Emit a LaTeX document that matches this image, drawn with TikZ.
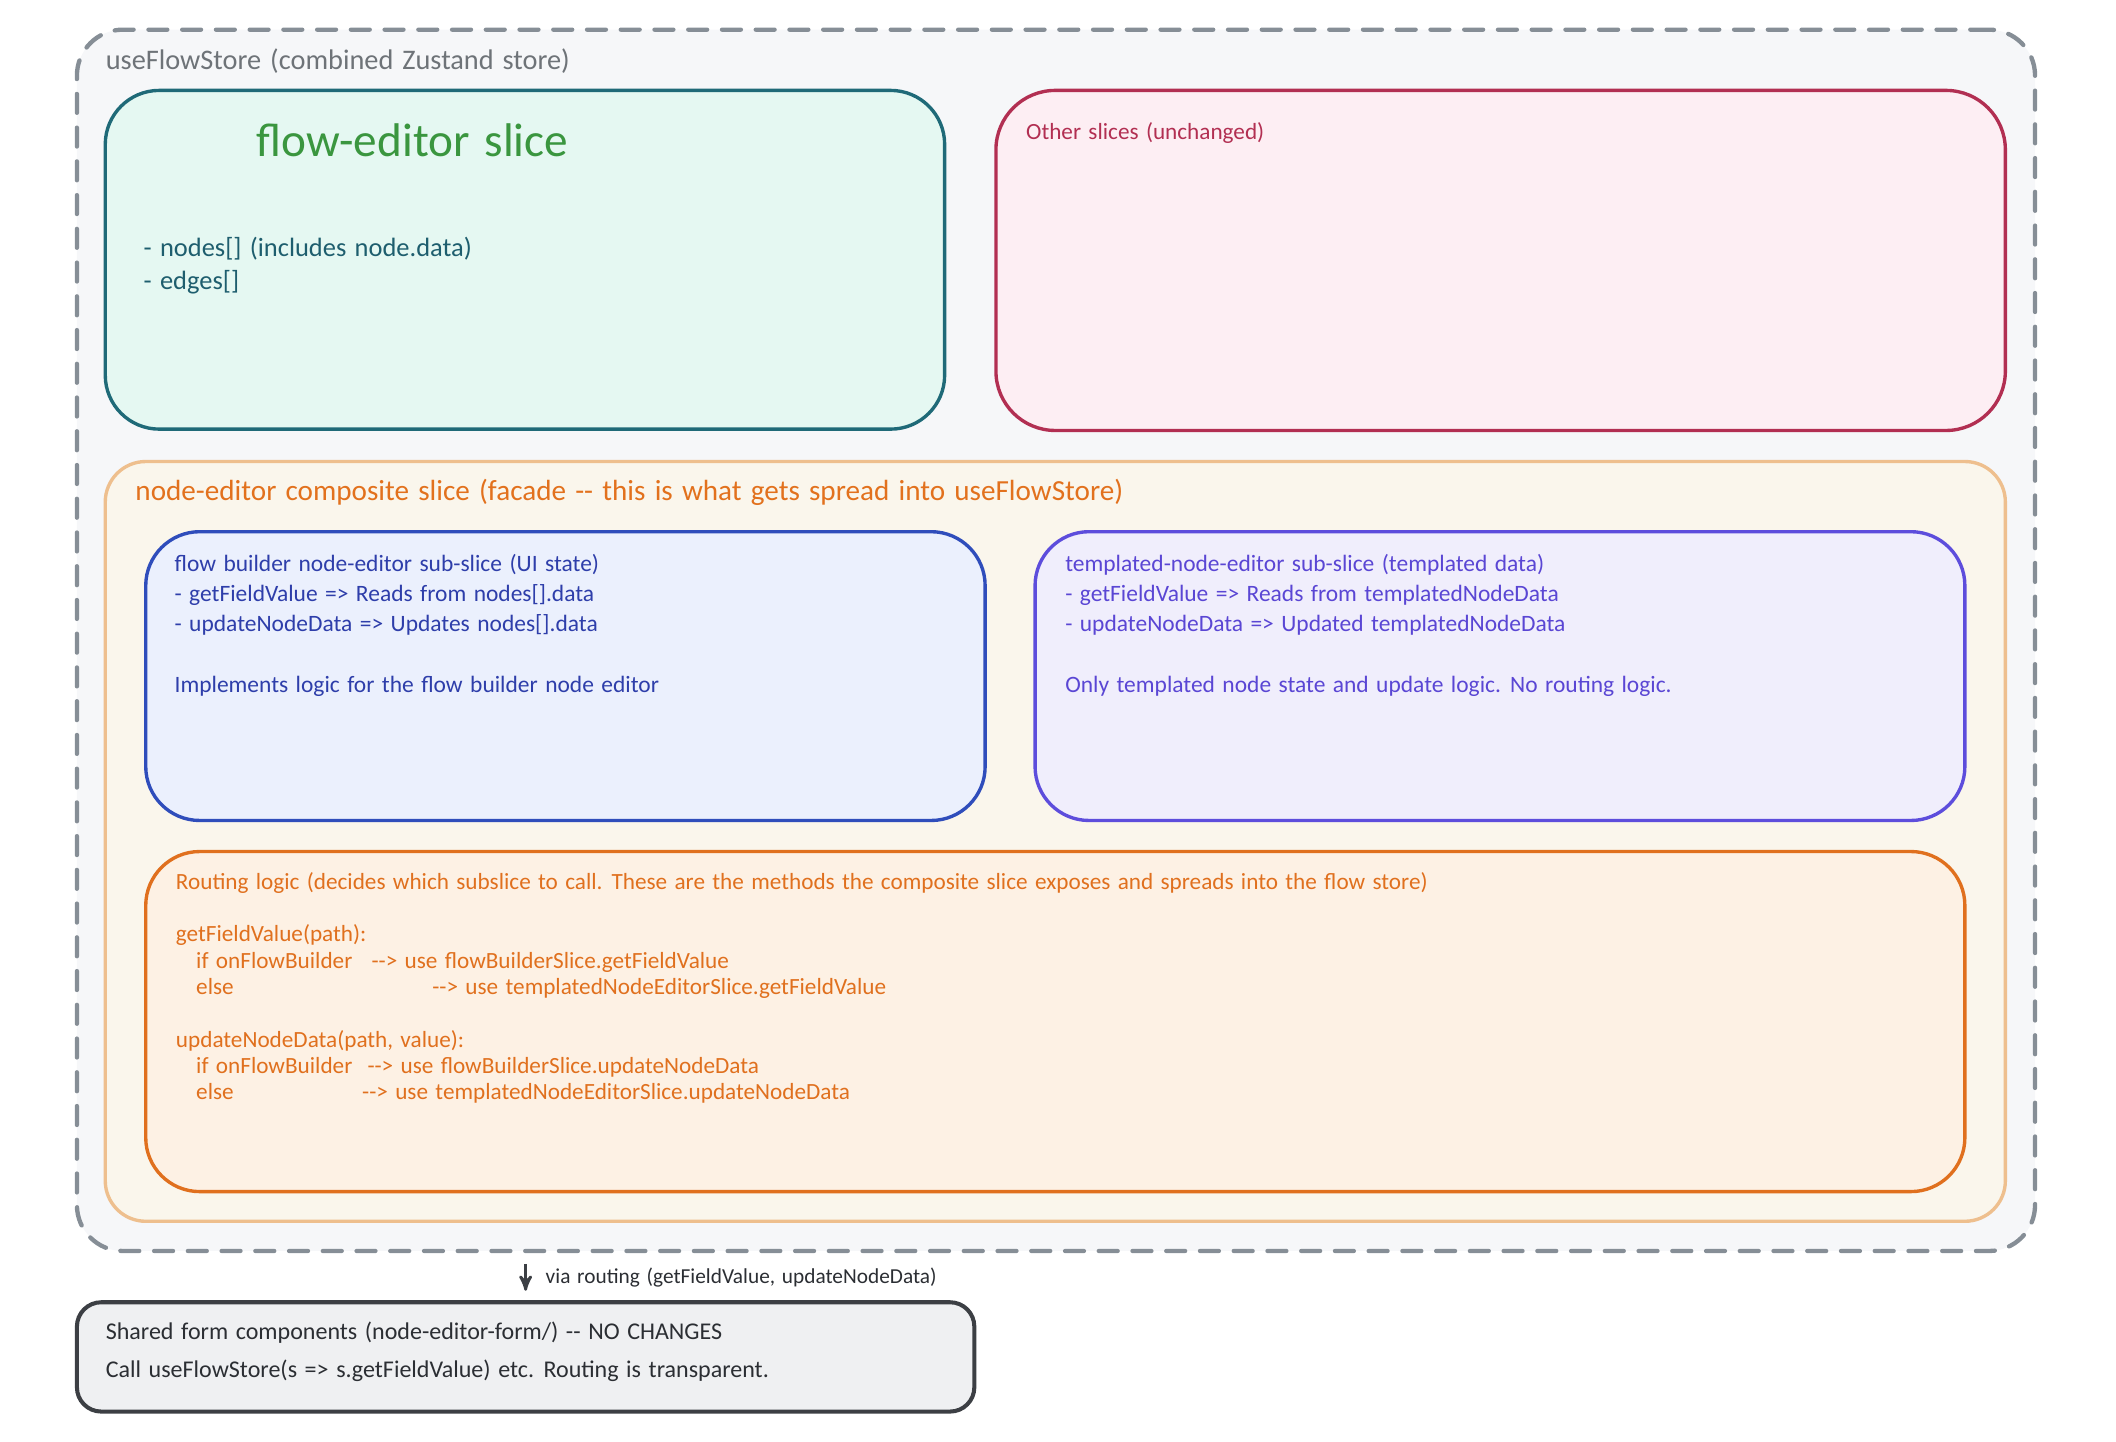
\documentclass[tikz,border=0pt]{standalone}
\usepackage{fontspec}
\setmainfont{Carlito}[WordSpace=1.4]
\usepackage{xcolor}
\usepackage{tikz}
\usetikzlibrary{arrows}

\definecolor{cStoreLine}{HTML}{868E96}
\definecolor{cStoreFill}{HTML}{F6F7F9}
\definecolor{cStoreText}{HTML}{6E7378}
\definecolor{cFlowLine}{HTML}{1F6A78}
\definecolor{cFlowFill}{HTML}{E5F8F2}
\definecolor{cFlowTitle}{HTML}{3A963F}
\definecolor{cFlowText}{HTML}{1E5E6E}
\definecolor{cOtherLine}{HTML}{B22F52}
\definecolor{cOtherFill}{HTML}{FDEEF3}
\definecolor{cCompLine}{HTML}{EEBF8E}
\definecolor{cCompFill}{HTML}{FAF6EC}
\definecolor{cCompText}{HTML}{E2711D}
\definecolor{cBuilderLine}{HTML}{2F4DBB}
\definecolor{cBuilderFill}{HTML}{EBF0FD}
\definecolor{cBuilderText}{HTML}{2E3EAA}
\definecolor{cTmplLine}{HTML}{5D4DDC}
\definecolor{cTmplFill}{HTML}{F0EEFC}
\definecolor{cTmplText}{HTML}{5A46D4}
\definecolor{cRouteLine}{HTML}{E0701E}
\definecolor{cRouteFill}{HTML}{FDF1E4}
\definecolor{cFormLine}{HTML}{3C3F44}
\definecolor{cFormFill}{HTML}{EFF0F2}
\definecolor{cFormText}{HTML}{2B2E33}

\newcommand{\ddash}{-\kern0pt-}% two hyphens, no en dash
\newcommand{\fsz}[2]{\fontsize{#1}{#2}\selectfont}

\tikzset{
  slicebox/.style = {rectangle, inner sep=0pt, line width=1.25pt,
    rounded corners=20pt},
  store_b/.style = {slicebox, draw=cStoreLine, fill=cStoreFill,
    line width=1.6pt, dash pattern=on 7pt off 5.5pt, line cap=round,
    rounded corners=17pt},% outer store, dashed
  flow_b/.style = {slicebox, draw=cFlowLine, fill=cFlowFill},% flow-editor slice
  other_b/.style = {slicebox, draw=cOtherLine, fill=cOtherFill,
    rounded corners=22pt},% other slices
  comp_b/.style = {slicebox, draw=cCompLine, fill=cCompFill,
    rounded corners=15pt},% composite slice
  builder_b/.style = {slicebox, draw=cBuilderLine, fill=cBuilderFill},% sub-slice ui
  tmpl_b/.style = {slicebox, draw=cTmplLine, fill=cTmplFill},% sub-slice templated
  route_b/.style = {slicebox, draw=cRouteLine, fill=cRouteFill},% routing
  form_b/.style = {slicebox, draw=cFormLine, fill=cFormFill,
    line width=1.5pt, rounded corners=9pt},% shared form
  txt/.style = {anchor=north west, inner sep=0pt, align=left}
}

\begin{document}
\begin{tikzpicture}[x=0.5pt, y=-0.5pt]
\useasboundingbox (0,0) rectangle (1568,1068);

\node [store_b, minimum width=725.5pt, minimum height=452.5pt] (store) at (782.5,474.5) {};
\node [txt, cStoreText, font=\fsz{10.5}{13}] (storeTitle) at (78,36)
  {useFlowStore (combined Zustand store)};

\node [flow_b, minimum width=311pt, minimum height=125.5pt] (flowEditor) at (389,192.5) {};
\node [txt, cFlowTitle, font=\fsz{17.5}{20}] (flowTitle) at (190,91) {flow-editor slice};
\node [txt, cFlowText, font=\fsz{9.8}{12}] (flowData) at (106,175.5)
  {- nodes[] (includes node.data)\\- edges[]};

\node [other_b, minimum width=374pt, minimum height=126pt] (others) at (1112,193) {};
\node [txt, cOtherLine, font=\fsz{8.6}{10}] (othersText) at (760,90.5) {Other slices (unchanged)};

\node [comp_b, minimum width=704pt, minimum height=281.5pt] (composite) at (782,623.5) {};
\node [txt, cCompText, font=\fsz{10.8}{12}] (compTitle) at (100,355)
  {node-editor composite slice (facade \ddash{} this is what gets spread into useFlowStore)};

\node [builder_b, minimum width=311pt, minimum height=107pt] (builder) at (419,501) {};
\node [txt, cBuilderText, font=\fsz{8.7}{11.15}] (builderText) at (129,410.5)
  {flow builder node-editor sub-slice (UI state)\\
   - getFieldValue => Reads from nodes[].data\\
   - updateNodeData => Updates nodes[].data\\[11.15pt]
   Implements logic for the flow builder node editor};

\node [tmpl_b, minimum width=344.5pt, minimum height=107pt] (templated) at (1111.5,501) {};
\node [txt, cTmplText, font=\fsz{8.7}{11.15}] (templatedText) at (789,410.5)
  {templated-node-editor sub-slice (templated data)\\
   - getFieldValue => Reads from templatedNodeData\\
   - updateNodeData => Updated templatedNodeData\\[11.15pt]
   Only templated node state and update logic. No routing logic.};

\node [route_b, minimum width=674pt, minimum height=126pt] (routing) at (782,757) {};
\node [txt, cRouteLine, font=\fsz{8.6}{9.75}] (routingText) at (130,646)
  {Routing logic (decides which subslice to call. These are the methods the composite slice exposes and spreads into the flow store)\\[9.75pt]
   getFieldValue(path):\\
   \hspace*{7.5pt}\makebox[65pt][l]{if onFlowBuilder}\ddash> use flowBuilderSlice.getFieldValue\\
   \hspace*{7.5pt}\makebox[87.5pt][l]{else}\ddash> use templatedNodeEditorSlice.getFieldValue\\[9.75pt]
   updateNodeData(path, value):\\
   \hspace*{7.5pt}\makebox[63.5pt][l]{if onFlowBuilder}\ddash> use flowBuilderSlice.updateNodeData\\
   \hspace*{7.5pt}\makebox[61.5pt][l]{else}\ddash> use templatedNodeEditorSlice.updateNodeData};

\node [form_b, minimum width=332.5pt, minimum height=40.5pt] (form) at (389.5,1005.5) {};
\node [txt, cFormText, font=\fsz{8.9}{14}] (formText) at (78,979.5)
  {Shared form components (node-editor-form/) \ddash{} NO CHANGES\\
   Call useFlowStore(s => s.getFieldValue) etc. Routing is transparent.};

\draw [->, >=stealth', line width=1pt, cFormLine, shorten <=4pt, shorten >=3.5pt]
  (store.south -| form.north) -- (form.north);
\node [anchor=west, inner sep=0pt, cFormText, font=\fsz{7.9}{9}] (viaRouting) at (404,947)
  {via routing (getFieldValue, updateNodeData)};
\end{tikzpicture}
\end{document}
